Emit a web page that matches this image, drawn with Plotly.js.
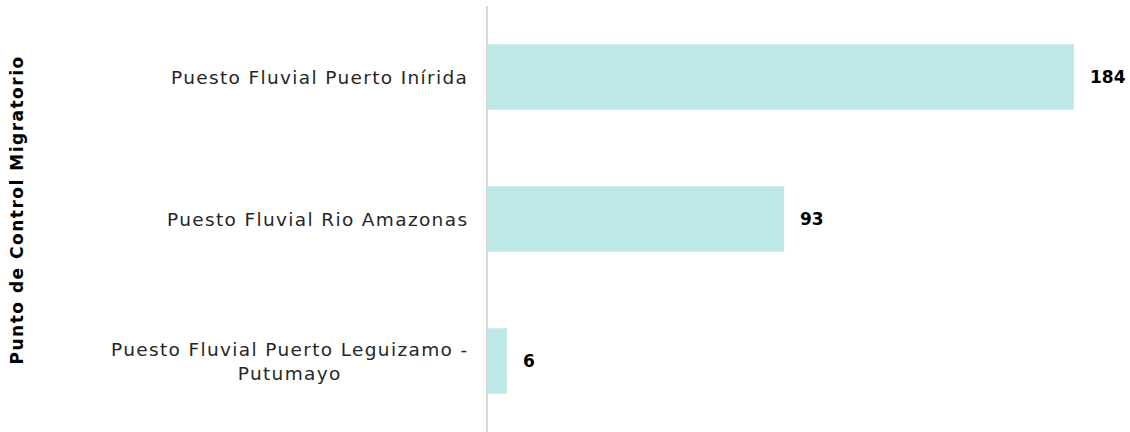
<!DOCTYPE html>
<html><head><meta charset="utf-8">
<script src="https://cdn.plot.ly/plotly-3.0.1.min.js"></script>
<style>html,body{margin:0;padding:0;background:#fff}#chart{width:1130px;height:432px}</style>
</head><body><div id="chart"></div>
<script>
const categories = ["Puesto Fluvial Puerto Inírida", "Puesto Fluvial Rio Amazonas", "Puesto Fluvial Puerto Leguizamo -<br>Putumayo"];
const values = [184, 93, 6];
const axisTitle = "Punto de Control Migratorio";
const FONT = "DejaVu Sans, sans-serif";

function spaced(t, ls) {
  return t.split('<br>').map(s => '<span style="letter-spacing:' + ls + 'px">' + s + '</span>').join('<br>');
}

const annotations = [];
categories.forEach((c, i) => {
  annotations.push({xref: 'paper', yref: 'y', x: 0, y: c, text: spaced(c, 1.35), showarrow: false,
    xanchor: 'right', yanchor: 'middle', align: 'center', xshift: -18,
    font: {family: FONT, size: 18.5, color: '#262626'}});
  annotations.push({xref: 'x', yref: 'y', x: values[i], y: c, text: '<b>' + values[i] + '</b>', showarrow: false,
    xanchor: 'left', yanchor: 'middle', xshift: 14,
    font: {family: FONT, size: 17, color: '#000'}});
});
annotations.push({xref: 'paper', yref: 'paper', x: 0, y: 0.52, text: '<b>' + spaced(axisTitle, 1.5) + '</b>', textangle: -90,
  showarrow: false, xanchor: 'center', yanchor: 'middle', xshift: -471,
  font: {family: FONT, size: 17, color: '#000'}});

Plotly.newPlot('chart', [{
  type: 'bar', orientation: 'h', x: values, y: categories,
  marker: {color: '#bfe9e8'}, hoverinfo: 'none'
}], {
  width: 1130, height: 432,
  margin: {l: 488, r: 5, t: 6, b: 0},
  paper_bgcolor: '#fff', plot_bgcolor: '#fff',
  bargap: 0.54,
  showlegend: false,
  xaxis: {range: [0, 200], visible: false, showgrid: false, zeroline: false},
  yaxis: {autorange: 'reversed', showticklabels: false, ticks: '', showgrid: false, zeroline: false,
    showline: true, linecolor: '#d9d9d9', linewidth: 2},
  annotations: annotations,
  font: {family: FONT}
}, {displayModeBar: false, staticPlot: true});
</script></body></html>
